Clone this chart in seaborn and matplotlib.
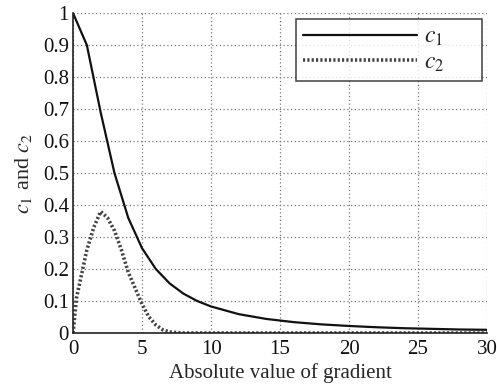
import numpy as np
import pandas as pd
import matplotlib
matplotlib.use("Agg")
import matplotlib.pyplot as plt
import seaborn as sns

# c1 sampled at integer gradient values
x_c1 = [0, 1, 2, 3, 4, 5, 6, 7, 8, 9, 10, 12, 14, 16, 18, 20, 22, 24, 26, 28, 30]
c1 = [1.0, 0.9, 0.69, 0.5, 0.36, 0.265, 0.2, 0.155, 0.123, 0.1, 0.083,
      0.059, 0.044, 0.034, 0.027, 0.022, 0.018, 0.015, 0.013, 0.011, 0.01]

# c2 sampled more finely near its peak
x_c2 = [0, 0.25, 0.5, 0.75, 1, 1.5, 2, 2.5, 3, 3.5, 4, 4.5, 5, 5.5, 6, 6.5, 7, 8, 10, 15, 20, 25, 30]
c2 = [0.0, 0.11, 0.16, 0.21, 0.26, 0.33, 0.38, 0.36, 0.32, 0.26, 0.19, 0.14,
      0.09, 0.05, 0.025, 0.01, 0.003, 0.0, 0.0, 0.0, 0.0, 0.0, 0.0]

x_ticks = [0, 5, 10, 15, 20, 25, 30]
y_ticks = [0, 0.1, 0.2, 0.3, 0.4, 0.5, 0.6, 0.7, 0.8, 0.9, 1]
y_tick_labels = ["0", "0.1", "0.2", "0.3", "0.4", "0.5", "0.6", "0.7", "0.8", "0.9", "1"]

sns.set_style("white")
plt.rcParams["font.family"] = ["Liberation Serif", "DejaVu Serif"]
plt.rcParams["mathtext.fontset"] = "stix"

df1 = pd.DataFrame({"x": x_c1, "y": c1})
df2 = pd.DataFrame({"x": x_c2, "y": c2})

fig = plt.figure(figsize=(4.97, 3.87), dpi=100)
ax = fig.add_axes([0.147, 0.1395, 0.833, 0.8265])

# trailing spaces widen the legend box like the original
sns.lineplot(data=df1, x="x", y="y", ax=ax, color="#111111", linewidth=1.6,
             label="$c_1$" + " " * 6)
sns.lineplot(data=df2, x="x", y="y", ax=ax, color="#444444", linewidth=2.6,
             linestyle=(0, (0.6, 0.6)), label="$c_2$" + " " * 6)

ax.set_xlim(0, 30)
ax.set_ylim(0, 1)
ax.set_xticks(x_ticks)
ax.set_yticks(y_ticks)
ax.set_yticklabels(y_tick_labels)
ax.tick_params(axis="y", labelsize=15, length=3, direction="in", pad=3, colors="#111111")
ax.tick_params(axis="x", labelsize=15, length=3, direction="in", pad=5, colors="#111111")
ax.grid(True, linestyle=(0, (1, 2)), color="#777777", linewidth=0.9)

for side in ["top", "right"]:
    ax.spines[side].set_visible(False)
for side in ["left", "bottom"]:
    ax.spines[side].set_color("#222222")
    ax.spines[side].set_linewidth(1.2)

ax.set_xlabel("Absolute value of gradient", fontsize=15, labelpad=3)
ax.set_ylabel("$c_1$ and $c_2$", fontsize=16, labelpad=6)

leg = ax.legend(loc="upper right", bbox_to_anchor=(0.988, 0.981), fontsize=17,
                frameon=True, fancybox=False, handlelength=4.8, handletextpad=0.3,
                borderpad=0.3, labelspacing=0.15, borderaxespad=0)
leg.get_frame().set_edgecolor("#222222")
leg.get_frame().set_linewidth(1.2)

fig.savefig("out.png", dpi=100)
